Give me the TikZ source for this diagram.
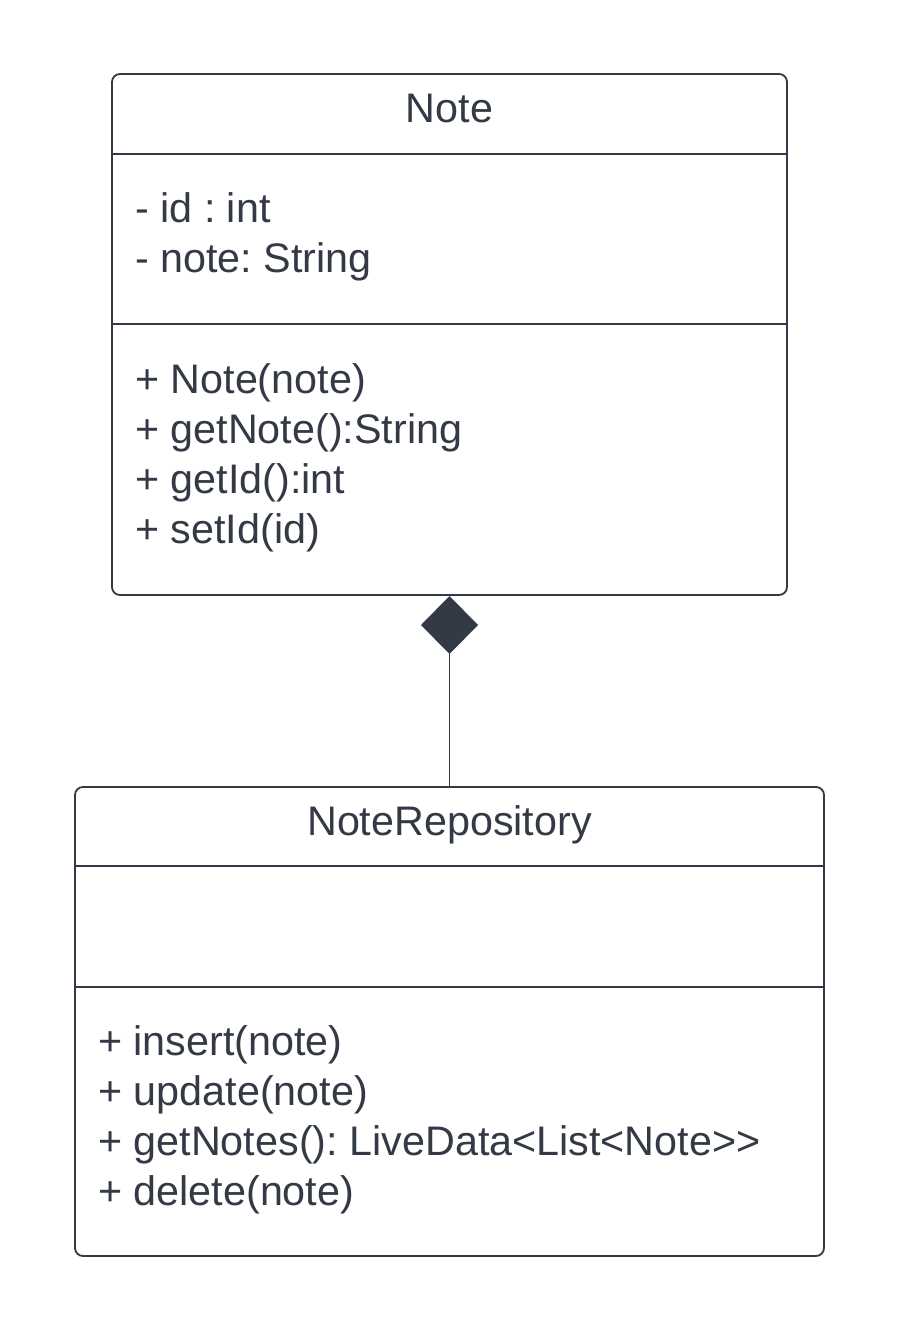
\documentclass[tikz,border=0pt]{standalone}
\usepackage{fontspec}
\setmainfont{Liberation Sans}
\definecolor{ink}{HTML}{343A45}
\begin{document}
\frenchspacing
\begin{tikzpicture}[x=1pt,y=-1pt,
  box/.style={draw=ink,line width=1.8pt,rounded corners=8pt},
  sep/.style={draw=ink,line width=1.3pt},
  txt/.style={anchor=base west,inner sep=0pt,text=ink,font=\fontsize{41.3}{50}\selectfont\frenchspacing},
  ttl/.style={anchor=base,inner sep=0pt,text=ink,font=\fontsize{41.3}{50}\selectfont\frenchspacing}]
\useasboundingbox[fill=white] (0,0) rectangle (900,1333);
% Note class
\draw[box] (112,74) rectangle (787,595);
\draw[sep] (112,154) -- (787,154);
\draw[sep] (112,324) -- (787,324);
\node[ttl] (nt) at (449.5,122) {Note};
\node[txt] (a1) at (135,222) {- id : int};
\node[txt] (a2) at (135,272) {- note: String};
\node[txt] (m1) at (135,393) {+ Note(note)};
\node[txt] (m2) at (135,443) {+ getNote():String};
\node[txt] (m3) at (135,493) {+ getId():int};
\node[txt] (m4) at (135,543) {+ setId(id)};
% Repository class
\draw[box] (75,787) rectangle (824,1256);
\draw[sep] (75,866) -- (824,866);
\draw[sep] (75,987) -- (824,987);
\node[ttl] (rt) at (449.5,835) {NoteRepository};
\node[txt] (r1) at (98,1055) {+ insert(note)};
\node[txt] (r2) at (98,1105) {+ update(note)};
\node[txt] (r3) at (98,1155) {+ getNotes(): LiveData<List<Note>{}>};
\node[txt] (r4) at (98,1205) {+ delete(note)};
% composition
\coordinate (dtop) at (449.5,596);
\coordinate (dbot) at (449.5,654);
\coordinate (rtop) at (449.5,787);
\fill[ink] (dtop) -- (478,625) -- (dbot) -- (421,625) -- cycle;
\draw[ink,line width=1.3pt] (dbot) -- (rtop);
\end{tikzpicture}
\end{document}
